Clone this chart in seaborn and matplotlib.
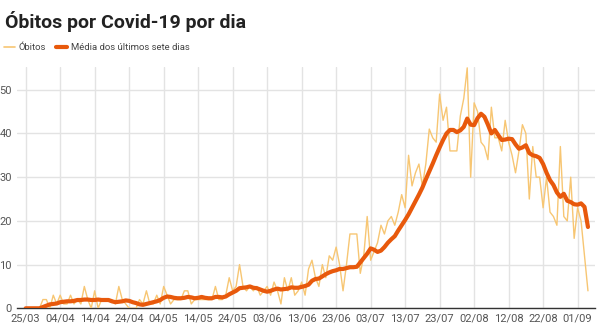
import matplotlib
matplotlib.use("Agg")
import matplotlib.pyplot as plt
import seaborn as sns
import pandas as pd
from matplotlib.lines import Line2D

# ---- data (day 0 = 25/03) ----
obitos = [
    0, 0, 0, 0, 0, 2, 2, 0, 3, 1,
    3, 1, 1, 3, 1, 2, 1, 5, 2, 0,
    4, 0, 2, 2, 2, 2, 1, 5, 2, 1,
    0, 0, 0, 2, 1, 4, 1, 1, 3, 1,
    5, 3, 1, 2, 2, 2, 4, 4, 1, 2,
    2, 2, 2, 2, 2, 5, 2, 2, 3, 7,
    4, 5, 10, 5, 4, 5, 4, 5, 3, 4,
    5, 3, 6, 4, 1, 7, 4, 7, 3, 4,
    6, 3, 9, 11, 7, 5, 10, 7, 12, 11,
    14, 10, 4, 10, 17, 17, 17, 8, 12, 21,
    11, 13, 15, 19, 17, 20, 21, 19, 22, 26,
    23, 35, 28, 31, 33, 28, 33, 41, 39, 38,
    49, 43, 46, 36, 36, 36, 44, 48, 55, 30,
    47, 45, 38, 37, 34, 46, 39, 39, 36, 43,
    38, 35, 31, 36, 42, 40, 25, 37, 30, 30,
    23, 30, 22, 21, 19, 37, 21, 20, 30, 16,
    23, 20, 12, 4,
]
media7 = [
    0, 0, 0, 0, 0, 0.3, 0.6, 0.9, 1.0, 1.1,
    1.4, 1.5, 1.6, 1.6, 1.7, 1.9, 1.9, 2.0, 2.0, 1.9,
    1.9, 2.0, 1.9, 1.9, 1.9, 1.6, 1.4, 1.5, 1.6, 1.8,
    1.7, 1.4, 1.2, 0.9, 0.8, 1.0, 1.2, 1.4, 1.6, 1.9,
    2.4, 2.7, 2.6, 2.4, 2.3, 2.3, 2.4, 2.6, 2.5, 2.3,
    2.4, 2.6, 2.4, 2.3, 2.3, 2.6, 2.6, 2.5, 2.7, 3.2,
    3.6, 4.0, 4.6, 4.7, 4.8, 5.0, 4.7, 4.6, 4.3, 4.0,
    3.8, 4.0, 4.3, 4.5, 4.3, 4.4, 4.5, 4.8, 4.7, 4.7,
    4.9, 5.1, 5.4, 6.3, 6.7, 6.8, 7.3, 7.8, 8.2, 8.5,
    8.7, 9.0, 9.0, 9.2, 9.4, 9.4, 9.5, 10.5, 11.5, 12.5,
    13.7, 13.4, 12.9, 13.2, 14.0, 15.0, 15.8, 16.5, 17.8, 19.0,
    20.2, 21.5, 23.0, 24.5, 26.0, 27.6, 29.5, 31.3, 33.1, 35.0,
    36.8, 38.5, 40.0, 40.8, 40.8, 40.3, 40.7, 41.5, 43.4, 42.0,
    41.9, 43.5, 44.5, 43.8, 42.0, 40.0, 40.8, 39.6, 38.5, 38.6,
    38.8, 38.7, 37.5, 36.5, 36.8, 37.3, 35.5, 35.0, 34.8, 34.4,
    33.0, 31.0, 29.3, 28.2, 26.5, 25.5, 26.2, 24.6, 24.3, 23.8,
    23.7, 24.0, 23.2, 18.6,
]
tick_days = [0, 10, 20, 30, 40, 50, 60, 70, 80, 90, 100, 110, 120, 130, 140, 150, 160]
tick_labels = ["25/03", "04/04", "14/04", "24/04", "04/05", "14/05", "24/05", "03/06",
               "13/06", "23/06", "03/07", "13/07", "23/07", "02/08", "12/08", "22/08", "01/09"]
y_ticks = [0, 10, 20, 30, 40, 50]

df = pd.DataFrame({"dia": range(len(obitos)), "obitos": obitos, "media": media7})

sns.set_theme(style="white")
plt.rcParams["font.family"] = ["Roboto", "DejaVu Sans"]

fig = plt.figure(figsize=(6.0, 3.29), dpi=100)
ax = fig.add_axes([0.029, 0.0629, 0.963, 0.7335])

c_daily = "#F7C673"
c_avg = "#E8590C"

sns.lineplot(data=df, x="dia", y="obitos", ax=ax, color=c_daily, linewidth=1.0, zorder=3)
sns.lineplot(data=df, x="dia", y="media", ax=ax, color=c_avg, linewidth=3.0, zorder=4)

ax.set_xlim(-2.4, 165.1)
ax.set_ylim(0, 55.2)
ax.set_xticks(tick_days)
ax.set_xticklabels(tick_labels)
ax.set_yticks(y_ticks)
ax.set_xlabel("")
ax.set_ylabel("")
ax.grid(True, color="#E3E3E3", linewidth=1.0, zorder=0)
ax.set_axisbelow(True)
for s in ["top", "right", "left"]:
    ax.spines[s].set_visible(False)
ax.spines["bottom"].set_color("#333333")
ax.spines["bottom"].set_linewidth(1.0)
ax.tick_params(axis="both", length=0, labelsize=8, colors="#555555")
ax.tick_params(axis="x", pad=4)
ax.tick_params(axis="y", pad=4)

fig.text(0.008, 0.935, "Óbitos por Covid-19 por dia", fontsize=14, fontweight="bold",
         color="#222222", ha="left", va="center")

handles = [Line2D([], [], color=c_daily, linewidth=1.2),
           Line2D([], [], color=c_avg, linewidth=3.0)]
leg = fig.legend(handles, ["Óbitos", "Média dos últimos sete dias"], loc="center left",
                 bbox_to_anchor=(-0.008, 0.855), ncol=2, frameon=False, fontsize=6.8,
                 handlelength=1.2, handletextpad=0.4, columnspacing=1.0)
for t in leg.get_texts():
    t.set_color("#444444")

fig.savefig("out.png", dpi=100)
